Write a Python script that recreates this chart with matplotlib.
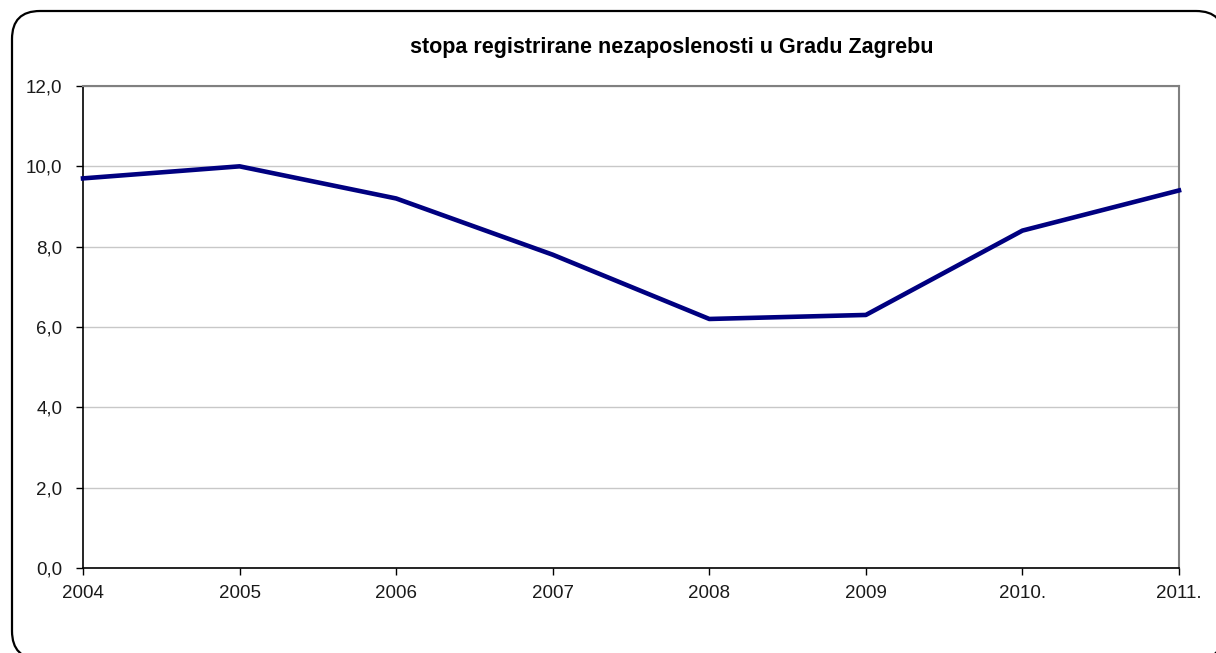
import numpy as np
import matplotlib.pyplot as plt
from matplotlib.patches import FancyBboxPatch

years = ['2004', '2005', '2006', '2007', '2008', '2009', '2010.', '2011.']
rate = [9.7, 10.0, 9.2, 7.8, 6.2, 6.3, 8.4, 9.4]
yticks = [0, 2, 4, 6, 8, 10, 12]

W, H = 1216, 653
plt.rcParams['font.family'] = ['Liberation Sans', 'DejaVu Sans']
fig = plt.figure(figsize=(W/100, H/100), dpi=100)

# background axes in pixel units, for the rounded chart border
bg = fig.add_axes([0, 0, 1, 1], zorder=0)
bg.set_xlim(0, W)
bg.set_ylim(H, 0)
bg.axis('off')
frame = FancyBboxPatch((12, 11), 1212, 648,
                       boxstyle='round,pad=0,rounding_size=28',
                       facecolor='white', edgecolor='black', linewidth=1.6)
bg.add_patch(frame)

ax = fig.add_axes([83/W, 1-568/H, (1179-83)/W, (568-86)/H], zorder=1)
x = np.arange(len(years))
ax.plot(x, rate, color='#000080', linewidth=3.3, zorder=3, clip_on=False)

ax.set_xlim(0, len(years)-1)
ax.set_ylim(0, 12)
ax.set_xticks(x)
ax.set_xticklabels(years)
ax.set_yticks(yticks)
ax.set_yticklabels([('%.1f' % v).replace('.', ',') for v in yticks])
ax.yaxis.grid(True, color='#c8c8c8', linewidth=1)
ax.set_axisbelow(True)

for s in ['top', 'right']:
    ax.spines[s].set_color('#808080')
    ax.spines[s].set_linewidth(1.5)
for s in ['left', 'bottom']:
    ax.spines[s].set_color('black')
    ax.spines[s].set_linewidth(1.2)

ax.tick_params(axis='both', direction='out', length=5, width=1, labelsize=13.5,
               colors='black', labelcolor='#1a1a1a')
ax.tick_params(axis='y', pad=10)
ax.tick_params(axis='x', pad=7)

fig.text(672/W, 1-47/H, 'stopa registrirane nezaposlenosti u Gradu Zagrebu',
         ha='center', va='center', fontsize=15.5, fontweight='bold')

fig.savefig('out.png', dpi=100)
